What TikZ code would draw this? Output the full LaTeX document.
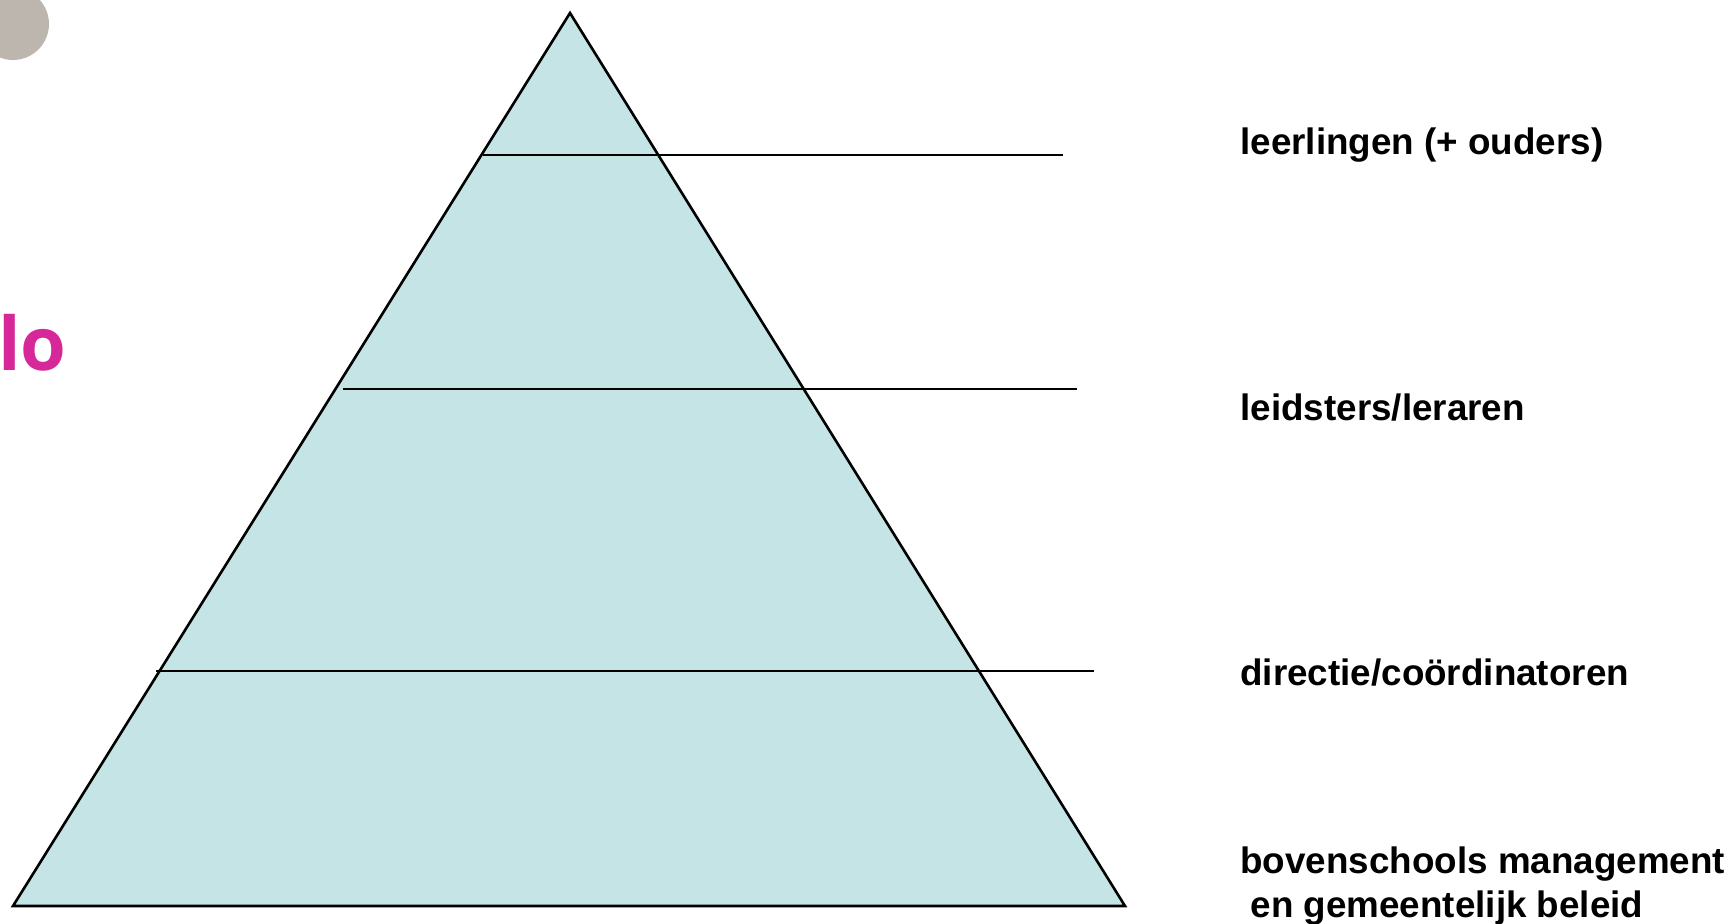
\documentclass[tikz,border=0pt]{standalone}
\usepackage{fontspec}
\setmainfont{Liberation Sans}
\newfontfamily\logofont{Open Sans}
\usetikzlibrary{positioning,calc}
\definecolor{pyrfill}{RGB}{196,228,230}
\definecolor{dotgray}{RGB}{189,182,175}
\definecolor{logopink}{RGB}{214,40,152}

\begin{document}
\begin{tikzpicture}[x=0.5pt, y=-0.5pt,
    pyramid/.style={draw=black, fill=pyrfill, line width=1.3pt, line join=miter},
    level/.style={draw=black, line width=1pt},
    label/.style={anchor=base west, inner sep=0pt, font=\fontsize{18.4}{22}\selectfont\bfseries},
    bottomlabel/.style={anchor=north west, inner sep=0pt, align=left,
                        font=\fontsize{18.4}{22}\selectfont\bfseries}
]
\useasboundingbox (0,0) rectangle (1734,924);

% leftovers of the slide
\fill[dotgray] (13,24) circle[radius=36];
\node[anchor=base west, inner sep=0pt, text=logopink,
      font=\fontsize{37}{40}\logofont\bfseries] (logo) at (-2,371) {lo};

% pyramid
\coordinate (top) at (570,13);
\coordinate (bl)  at (13,906);
\coordinate (br)  at (1125,906);
\draw[pyramid] (top) -- (br) -- (bl) -- cycle;

\coordinate (a1) at (483,155);  \coordinate (b1) at (1063,155);
\coordinate (a2) at (343,389);  \coordinate (b2) at (1077,389);
\coordinate (a3) at (156,671);  \coordinate (b3) at (1094,671);
\draw[level] (a1) -- (b1);
\draw[level] (a2) -- (b2);
\draw[level] (a3) -- (b3);

% labels
\node[label] (L1) at (1240,155) {leerlingen (+ ouders)};
\node[label] (L2) at (1240,421) {leidsters/leraren};
\node[label] (L3) at (1240,685) {directie/coördinatoren};
\node[bottomlabel] (L4) at (1240,846) {bovenschools management\\\ en gemeentelijk beleid};
\end{tikzpicture}
\end{document}
